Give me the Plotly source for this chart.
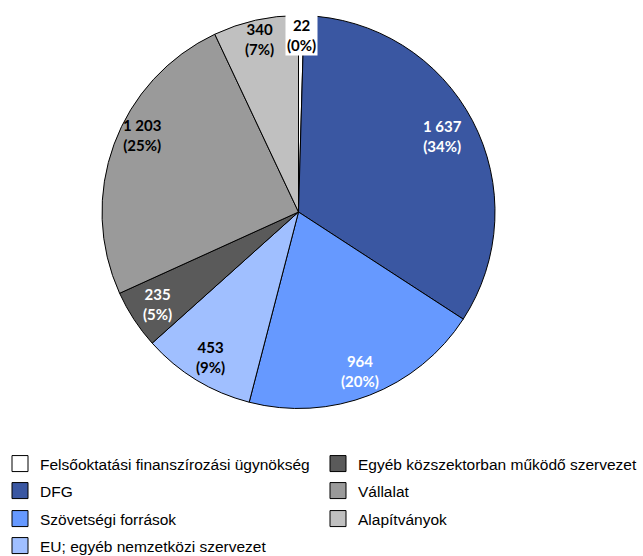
import math
import plotly.graph_objects as go

# ---- data ----
categories = [
    "Felsőoktatási finanszírozási ügynökség",
    "DFG",
    "Szövetségi források",
    "EU; egyéb nemzetközi szervezet",
    "Egyéb közszektorban működő szervezet",
    "Vállalat",
    "Alapítványok",
]
values = [22, 1637, 964, 453, 235, 1203, 340]
colors = ["#FFFFFF", "#3A57A2", "#6699FF", "#A0BFFF", "#5A5A5A", "#9A9A9A", "#C0C0C0"]
label_colors = ["black", "white", "white", "black", "white", "black", "black"]
legend_col = [0, 0, 0, 0, 1, 1, 1]
legend_row = [0, 1, 2, 3, 0, 1, 2]

# label placement (style): radial factor and angular tweak in degrees per slice
label_radius = [0.9, 0.83, 0.87, 0.865, 0.86, 0.89, 0.9]
label_turn = [0, 0, 0, 0, 0, 6, 0]

W, H = 643, 556
cx, cy, R = 298.5, 212.0, 196.5

fig = go.Figure()
fig.add_trace(go.Pie(
    labels=categories, values=values, sort=False, direction="clockwise", rotation=0,
    marker=dict(colors=colors, line=dict(color="black", width=1)),
    textinfo="none", hoverinfo="label+value+percent", showlegend=False,
    domain=dict(x=[(cx - R) / W, (cx + R) / W], y=[1 - (cy + R) / H, 1 - (cy - R) / H]),
))

total = sum(values)
cum = 0
annotations = []
for i, v in enumerate(values):
    mid = (cum + v / 2) / total * 2 * math.pi + math.radians(label_turn[i])
    cum += v
    f = label_radius[i]
    px = cx + f * R * math.sin(mid)
    py = cy - f * R * math.cos(mid)
    txt = "{}<br>({}%)".format(f"{v:,}".replace(",", " "), round(v / total * 100))
    annotations.append(dict(
        x=px / W, y=1 - py / H, xref="paper", yref="paper", xanchor="center", yanchor="middle",
        text=txt, showarrow=False,
        font=dict(family="Lato, Open Sans, sans-serif", size=15, color=label_colors[i], weight="bold"),
        bgcolor="white" if i == 0 else None, borderpad=1,
    ))

row_y = [464, 491, 519, 546]
col_x = [0, 318]
legend_font = dict(family="Liberation Sans Narrow, Arial Narrow, Liberation Sans, sans-serif", size=15.5, color="black")
for i, name in enumerate(categories):
    lname = "legend" if i == 0 else f"legend{i+1}"
    fig.add_trace(go.Scatter(
        x=[None], y=[None], mode="markers", name=name, legend=lname,
        marker=dict(symbol="square", size=16, color=colors[i], line=dict(color="black", width=1)),
        hoverinfo="skip",
    ))
    fig.update_layout(**{lname: dict(
        orientation="v", x=col_x[legend_col[i]] / W, xanchor="left", xref="container",
        y=1 - row_y[legend_row[i]] / H, yanchor="middle", yref="container",
        font=legend_font, bgcolor="rgba(0,0,0,0)", itemsizing="trace",
    )})

fig.update_layout(
    width=W, height=H, margin=dict(l=0, r=0, t=0, b=0, autoexpand=False),
    paper_bgcolor="white", plot_bgcolor="white",
    xaxis=dict(visible=False), yaxis=dict(visible=False),
    annotations=annotations,
)
fig.write_html("out.html")
